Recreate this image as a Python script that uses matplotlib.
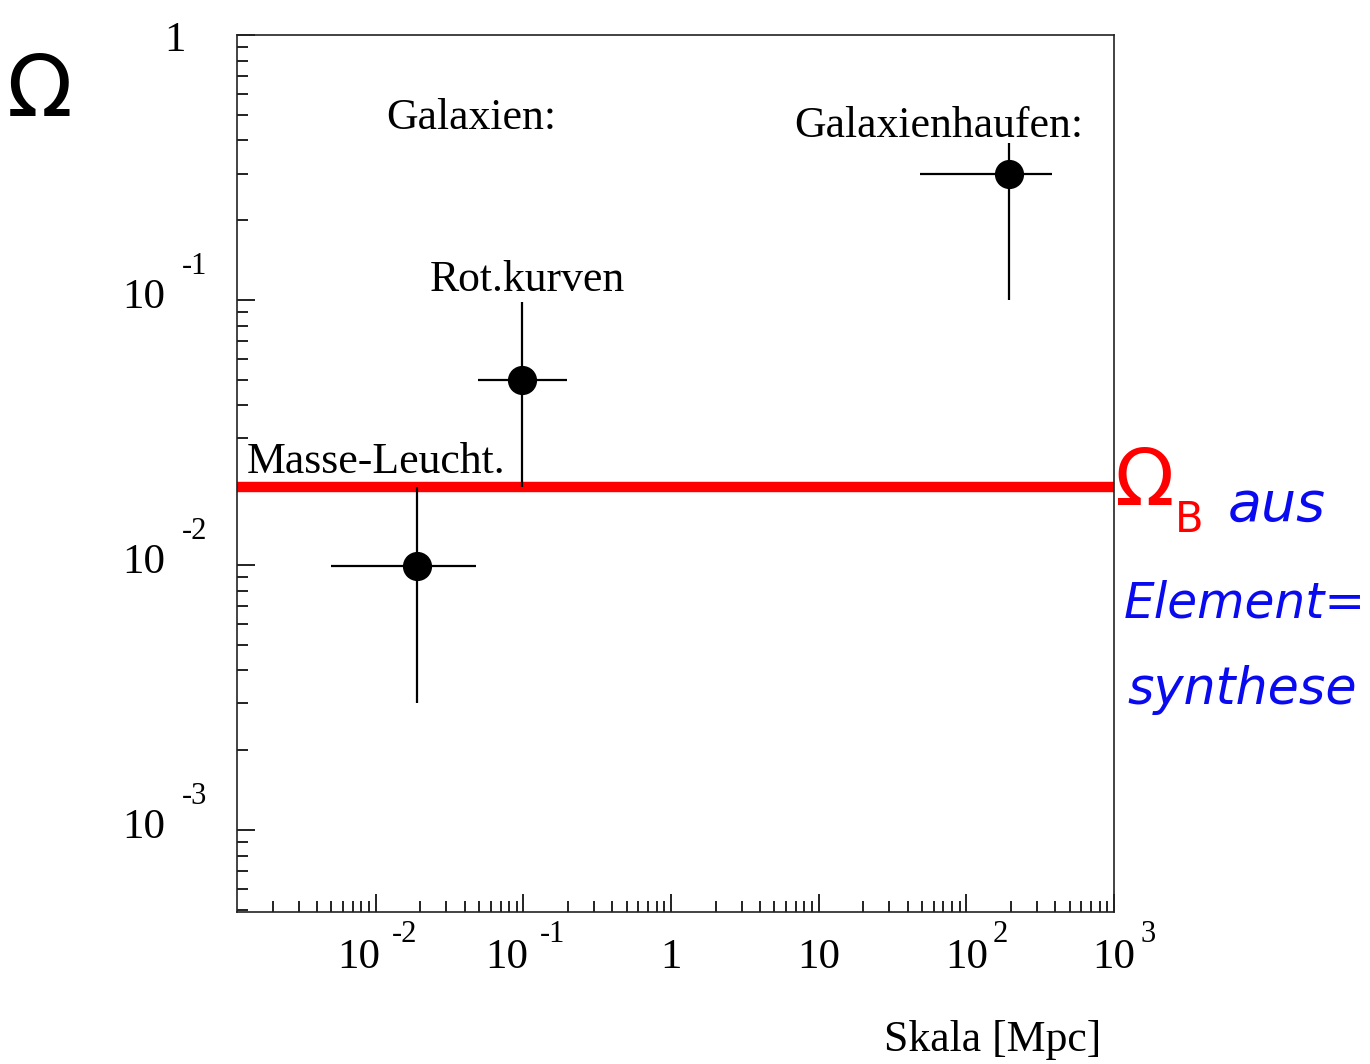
import numpy as np
import matplotlib
matplotlib.use("Agg")
from matplotlib import pyplot as plt
from matplotlib import ticker
from matplotlib.transforms import offset_copy

# %% data:
labels = ["Masse-Leucht.", "Rot.kurven", "Galaxienhaufen"]
scale = [0.019, 0.098, 195.0]          # Skala [Mpc]
omega = [0.0099, 0.050, 0.30]
scale_lo = [0.005, 0.049, 48.6]
scale_hi = [0.048, 0.198, 380.0]
omega_lo = [0.0030, 0.0196, 0.10]
omega_hi = [0.0197, 0.098, 0.39]
omega_b = 0.0197                       # Omega_B aus Elementsynthese

x_ticks = [1e-2, 1e-1, 1, 10, 1e2, 1e3]
x_base = ["10", "10", "1", "10", "10", "10"]
x_sup = ["-2", "-1", "", "", "2", "3"]
y_ticks = [1e-3, 1e-2, 1e-1, 1]
y_base = ["10", "10", "10", "1"]
y_sup = ["-3", "-2", "-1", ""]

serif = "Liberation Serif"
blue = "#0a0af0"

# %% plot:
fig = plt.figure(figsize=(13.7, 10.64), dpi=100)
ax = fig.add_axes([237 / 1370, 1 - 912 / 1064, 877 / 1370, 877 / 1064])
ax.set_xscale("log")
ax.set_yscale("log")
ax.set_xlim(10 ** -2.94, 1e3)
ax.set_ylim(10 ** -3.31, 1)

# red Omega_B band
ax.axhline(omega_b, color="red", lw=7.5, zorder=2)

xerr = [np.array(scale) - np.array(scale_lo), np.array(scale_hi) - np.array(scale)]
yerr = [np.array(omega) - np.array(omega_lo), np.array(omega_hi) - np.array(omega)]
ax.errorbar(scale, omega, xerr=xerr, yerr=yerr, fmt="o", color="black",
            ms=20, elinewidth=1.6, capsize=0, zorder=3)

for s in ax.spines.values():
    s.set_linewidth(1.2)
    s.set_color("#222222")
ax.tick_params(which="both", direction="in", top=False, right=False,
               labelbottom=False, labelleft=False, width=1.3, color="#111111")
ax.tick_params(which="major", length=13)
ax.tick_params(which="minor", length=8)
ax.xaxis.set_major_locator(ticker.LogLocator(base=10, numticks=20))
ax.xaxis.set_minor_locator(ticker.LogLocator(base=10, subs=np.arange(2, 10), numticks=50))
ax.yaxis.set_major_locator(ticker.LogLocator(base=10, numticks=20))
ax.yaxis.set_minor_locator(ticker.LogLocator(base=10, subs=np.arange(2, 10), numticks=50))

# tick labels drawn by hand, old style "10  -2"
for t, b, sp in zip(x_ticks, x_base, x_sup):
    dx = -17 if sp.startswith("-") else 0
    tr = offset_copy(ax.get_xaxis_transform(), fig, x=dx, y=-46, units="dots")
    ax.text(t, 0, b, transform=tr, ha="center", va="center",
            fontsize=31, family=serif)
    if sp:
        gap = 13 if sp.startswith("-") else 6
        tr2 = offset_copy(ax.get_xaxis_transform(), fig, x=dx + 20 + gap, y=-22, units="dots")
        ax.text(t, 0, sp, transform=tr2, ha="left", va="center",
                fontsize=22, family=serif)

for t, b, sp in zip(y_ticks, y_base, y_sup):
    if sp:
        tr = offset_copy(ax.get_yaxis_transform(), fig, x=-72, y=2, units="dots")
        ax.text(0, t, b, transform=tr, ha="right", va="center", fontsize=31, family=serif)
        tr2 = offset_copy(ax.get_yaxis_transform(), fig, x=-55, y=33, units="dots")
        ax.text(0, t, sp, transform=tr2, ha="left", va="center", fontsize=22, family=serif)
    else:
        tr = offset_copy(ax.get_yaxis_transform(), fig, x=-62, y=-6, units="dots")
        ax.text(0, t, b, transform=tr, ha="center", va="center", fontsize=31, family=serif)

# annotations
fig.text(471 / 1370, 1 - 118 / 1064, "Galaxien:", ha="center", va="center", fontsize=31.5, family=serif)
fig.text(939 / 1370, 1 - 126 / 1064, "Galaxienhaufen:", ha="center", va="center", fontsize=31.5, family=serif)
fig.text(527 / 1370, 1 - 280 / 1064, "Rot.kurven", ha="center", va="center", fontsize=31.5, family=serif)
fig.text(376 / 1370, 1 - 462 / 1064, "Masse-Leucht.", ha="center", va="center", fontsize=31.5, family=serif)
fig.text(993 / 1370, 1 - 1040 / 1064, "Skala [Mpc]", ha="center", va="center", fontsize=31.5, family=serif)

# axis symbol
fig.text(40 / 1370, 1 - 92 / 1064, "Ω", ha="center", va="center", fontsize=62,
         family="DejaVu Sans")

# handwritten note
fig.text(1145 / 1370, 1 - 483 / 1064, "Ω", ha="center", va="center", fontsize=56,
         family="DejaVu Sans", color="red")
fig.text(1189 / 1370, 1 - 520 / 1064, "B", ha="center", va="center", fontsize=30,
         family="DejaVu Sans", color="red")
fig.text(1277 / 1370, 1 - 505 / 1064, "aus", ha="center", va="center", fontsize=40,
         family="DejaVu Sans", style="italic", color=blue)
fig.text(1245 / 1370, 1 - 603 / 1064, "Element=", ha="center", va="center", fontsize=35,
         family="DejaVu Sans", style="italic", color=blue)
fig.text(1242 / 1370, 1 - 690 / 1064, "synthese", ha="center", va="center", fontsize=36.5,
         family="DejaVu Sans", style="italic", color=blue)

fig.savefig("out.png", dpi=100)
